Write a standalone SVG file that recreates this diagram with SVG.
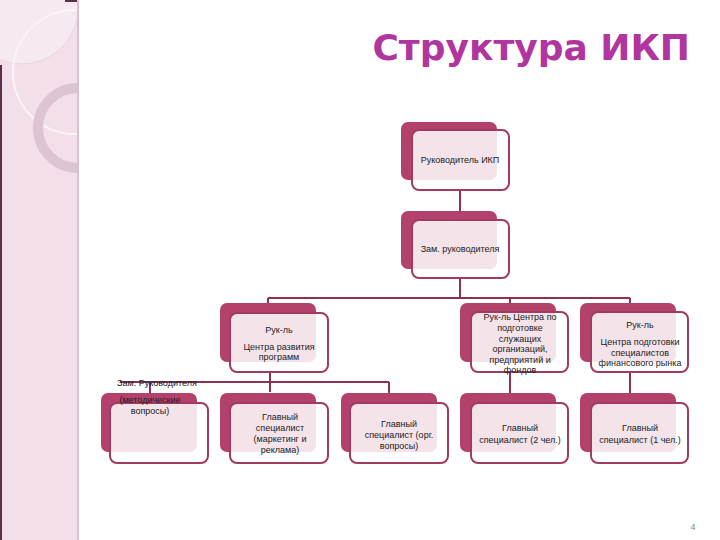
<svg xmlns="http://www.w3.org/2000/svg" width="720" height="540" viewBox="0 0 720 540">
<style>
.bk{fill:#b2416b}
.fr{fill:#ffffff;fill-opacity:0.86;stroke:#a23a62;stroke-width:2}
.t{font-family:"Liberation Sans",Arial,sans-serif;font-size:9px;fill:#222;text-anchor:middle}
.c{stroke:#8c3152;stroke-width:2;fill:none}
</style>
<defs><clipPath id="sb"><rect x="0" y="0" width="78" height="540"/></clipPath></defs>
<rect x="0" y="0" width="720" height="540" fill="#fff"/>
<g clip-path="url(#sb)">
<rect x="0" y="0" width="78" height="540" fill="#f3dfea"/>
<circle cx="22" cy="8" r="56" fill="#f7e9f1" stroke="#e0c8d6" stroke-width="0.6"/>
<circle cx="75" cy="72" r="62" fill="none" stroke="#fbf3f7" stroke-width="2"/>
<circle cx="78" cy="128" r="40" fill="none" stroke="#dcc4d2" stroke-width="10"/>
</g>
<rect x="77" y="0" width="2" height="540" fill="#d9c2d0"/>
<rect x="0" y="65" width="2" height="475" fill="#5a3048"/>
<rect x="65" y="0" width="12" height="2" fill="#5a3048"/>
<text x="690" y="60" font-family="DejaVu Sans,Verdana,sans-serif" font-size="36" font-weight="bold" fill="#b0359e" text-anchor="end">Структура ИКП</text>
<g id="connectors">
<path class="c" d="M460 190V220M460 278V298M268 298H630M268 298V303M510 298V303M630 298V303M270 372V392M120 382H389M150 382V393M389 382V393M510 372V393M630 372V393"/>
</g>
<g id="n1"><rect class="bk" x="401" y="122" width="96" height="58" rx="7"/><rect class="fr" x="412" y="130" width="97" height="60" rx="7"/><text class="t" x="460" y="163">Руководитель ИКП</text></g>
<g id="n2"><rect class="bk" x="401" y="211" width="96" height="58" rx="7"/><rect class="fr" x="412" y="220" width="97" height="58" rx="7"/><text class="t" x="460" y="252">Зам. руководителя</text></g>
<g id="n3"><rect class="bk" x="220" y="303" width="96" height="59" rx="7"/><rect class="fr" x="230" y="313" width="98" height="59" rx="7"/><text class="t" x="279" y="333">Рук-ль</text><text class="t" x="279" y="350">Центра развития</text><text class="t" x="279" y="360">программ</text></g>
<g id="n4"><rect class="bk" x="460" y="303" width="96" height="59" rx="7"/><rect class="fr" x="471" y="312" width="97" height="60" rx="7"/><text class="t" x="520" y="320">Рук-ль Центра по</text><text class="t" x="520" y="331">подготовке</text><text class="t" x="520" y="342">служащих</text><text class="t" x="520" y="352">организаций,</text><text class="t" x="520" y="363">предприятий и</text><text class="t" x="520" y="373">фондов</text></g>
<g id="n5"><rect class="bk" x="580" y="303" width="96" height="59" rx="7"/><rect class="fr" x="591" y="312" width="97" height="60" rx="7"/><text class="t" x="640" y="328">Рук-ль</text><text class="t" x="640" y="345">Центра подготовки</text><text class="t" x="640" y="356">специалистов</text><text class="t" x="640" y="366">финансового рынка</text></g>
<g id="n6"><rect class="bk" x="101" y="393" width="96" height="59" rx="7"/><rect class="fr" x="110" y="403" width="98" height="60" rx="7"/><text class="t" x="150" y="403">(методические</text><text class="t" x="150" y="414">вопросы)</text></g>
<text x="117" y="386" font-family="Liberation Sans,Arial,sans-serif" font-size="9" fill="#222">Зам. Руководителя</text>
<g id="n7"><rect class="bk" x="220" y="393" width="96" height="59" rx="7"/><rect class="fr" x="230" y="403" width="98" height="60" rx="7"/><text class="t" x="280" y="420">Главный</text><text class="t" x="280" y="431">специалист</text><text class="t" x="280" y="442">(маркетинг и</text><text class="t" x="280" y="453">реклама)</text></g>
<g id="n8"><rect class="bk" x="341" y="393" width="96" height="59" rx="7"/><rect class="fr" x="350" y="403" width="98" height="60" rx="7"/><text class="t" x="399" y="427">Главный</text><text class="t" x="399" y="438">специалист (орг.</text><text class="t" x="399" y="449">вопросы)</text></g>
<g id="n9"><rect class="bk" x="460" y="393" width="96" height="59" rx="7"/><rect class="fr" x="471" y="403" width="97" height="60" rx="7"/><text class="t" x="520" y="431">Главный</text><text class="t" x="520" y="443">специалист (2 чел.)</text></g>
<g id="n10"><rect class="bk" x="580" y="393" width="96" height="59" rx="7"/><rect class="fr" x="591" y="403" width="97" height="60" rx="7"/><text class="t" x="640" y="431">Главный</text><text class="t" x="640" y="443">специалист (1 чел.)</text></g>
<text x="693" y="530" font-family="Liberation Sans,Arial,sans-serif" font-size="9" fill="#888" text-anchor="middle">4</text>
</svg>
